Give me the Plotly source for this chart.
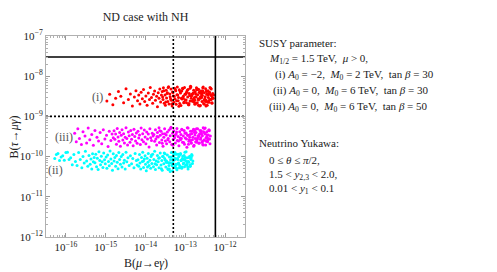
import numpy as np
import plotly.graph_objects as go

# ---------------- data (log10 values) ----------------
# series (i): red
red_log_mueg = [
    -14.97, -14.90, -14.82, -14.75, -14.68, -14.62, -14.55, -14.49, -14.43, -14.38, -14.33, -14.28, -14.24, -14.20,
    -14.17, -14.14, -14.11, -14.08, -14.05, -14.02, -13.99, -13.96, -13.93, -13.90, -13.88, -13.85, -13.82, -13.80,
    -13.77, -13.75, -13.72, -13.70, -13.68, -13.66, -13.64, -13.62, -13.60,
    -13.58, -13.56, -13.55, -13.53, -13.51, -13.50, -13.48, -13.47, -13.45, -13.44,
    -13.42, -13.41, -13.39, -13.38, -13.36, -13.35, -13.33, -13.32, -13.30, -13.29,
    -13.27, -13.26, -13.24, -13.23, -13.21, -13.20, -13.18, -13.17, -13.15, -13.14,
    -13.12, -13.11, -13.09, -13.08, -13.06, -13.05, -13.03, -13.02, -13.00, -12.99,
    -12.97, -12.96, -12.94, -12.93, -12.91, -12.90, -12.88, -12.87, -12.85, -12.84,
    -12.82, -12.81, -12.79, -12.78, -12.76, -12.75, -12.73, -12.72, -12.70, -12.69,
    -12.67, -12.66, -12.64, -12.63, -12.61, -12.60, -12.58, -12.57, -12.55, -12.54,
    -12.52, -12.51, -12.49, -12.48, -12.46, -12.45, -12.43, -12.42, -12.40, -12.39,
    -12.37, -12.36, -12.34, -12.33, -12.31, -12.30,
    -13.57, -13.54, -13.49, -13.46, -13.43, -13.37, -13.34, -13.31, -13.28, -13.25,
    -13.22, -13.19, -13.16, -13.13, -13.10, -13.07, -13.04, -13.01, -12.98, -12.95,
    -12.92, -12.89, -12.86, -12.83, -12.80, -12.77, -12.74, -12.71, -12.68, -12.65,
    -12.62, -12.59, -12.56, -12.53, -12.50, -12.47, -12.44, -12.41, -12.38, -12.35,
    -12.32, -12.29,
    -12.85, -12.78, -12.71, -12.65, -12.58, -12.52, -12.46, -12.41, -12.36, -12.31,
    -12.88, -12.80, -12.74, -12.67, -12.62, -12.56, -12.49, -12.43, -12.38, -12.33,
    -13.05, -12.97, -12.91, -12.83, -12.76, -12.69, -12.59, -12.48, -12.40, -12.35,
]
red_log_taumug = [
    -8.62, -8.45, -8.71, -8.55, -8.38, -8.50, -8.66, -8.31, -8.58, -8.44, -8.74, -8.52, -8.36, -8.61,
    -8.47, -8.69, -8.40, -8.56, -8.33, -8.63, -8.49, -8.72, -8.42, -8.58, -8.28, -8.53, -8.67, -8.45,
    -8.37, -8.60, -8.50, -8.76, -8.41, -8.55, -8.32, -8.64, -8.47,
    -8.38, -8.58, -8.29, -8.67, -8.47, -8.72, -8.35, -8.54, -8.41, -8.63,
    -8.26, -8.69, -8.44, -8.51, -8.32, -8.60, -8.74, -8.39, -8.49, -8.65,
    -8.30, -8.56, -8.36, -8.70, -8.46, -8.27, -8.61, -8.53, -8.34, -8.68,
    -8.42, -8.73, -8.37, -8.57, -8.31, -8.50, -8.64, -8.28, -8.59, -8.45,
    -8.66, -8.40, -8.52, -8.33, -8.71, -8.43, -8.62, -8.25, -8.55, -8.48,
    -8.44, -8.62, -8.35, -8.57, -8.70, -8.39, -8.51, -8.29, -8.66, -8.46,
    -8.59, -8.33, -8.74, -8.42, -8.54, -8.37, -8.63, -8.48, -8.27, -8.68,
    -8.41, -8.56, -8.31, -8.60, -8.45, -8.72, -8.36, -8.53, -8.65, -8.40,
    -8.58, -8.30, -8.49, -8.67, -8.43, -8.55,
    -8.52, -8.36, -8.64, -8.43, -8.28, -8.57, -8.69, -8.41, -8.50, -8.33,
    -8.61, -8.47, -8.75, -8.38, -8.55, -8.30, -8.66, -8.45, -8.59, -8.35,
    -8.71, -8.48, -8.26, -8.62, -8.42, -8.53, -8.68, -8.34, -8.56, -8.40,
    -8.73, -8.46, -8.29, -8.60, -8.51, -8.37, -8.65, -8.44, -8.58, -8.32,
    -8.54, -8.47,
    -8.49, -8.65, -8.33, -8.57, -8.42, -8.70, -8.38, -8.61, -8.46, -8.54,
    -8.30, -8.59, -8.44, -8.72, -8.51, -8.36, -8.63, -8.47, -8.28, -8.66,
    -8.55, -8.40, -8.68, -8.45, -8.60, -8.32, -8.53, -8.74, -8.43, -8.58,
]

# series (iii): magenta
mag_log_mueg = [
    -15.78, -15.74, -15.70, -15.66, -15.61, -15.57, -15.52, -15.48, -15.44, -15.40,
    -15.35, -15.31, -15.27, -15.22, -15.18, -15.14, -15.10, -15.06, -15.02, -14.98,
    -14.94, -14.91, -14.87, -14.84, -14.81,
    -14.79, -14.77, -14.75, -14.73, -14.71, -14.69, -14.67, -14.65, -14.63, -14.61,
    -14.59, -14.57, -14.55, -14.53, -14.51, -14.49, -14.47, -14.45, -14.43, -14.41,
    -14.39, -14.37, -14.35, -14.33, -14.31, -14.29, -14.27, -14.25, -14.23, -14.21,
    -14.19, -14.17, -14.15, -14.13, -14.11, -14.09, -14.07, -14.05, -14.03, -14.01,
    -13.99, -13.97, -13.95, -13.93, -13.91, -13.89, -13.87, -13.85, -13.83, -13.81,
    -13.79, -13.77, -13.75, -13.74, -13.72, -13.70, -13.68, -13.66, -13.65, -13.63,
    -13.61, -13.59, -13.57, -13.56, -13.54, -13.52, -13.50, -13.48, -13.47, -13.45,
    -13.43, -13.41, -13.39, -13.38, -13.36, -13.34, -13.32, -13.30, -13.29, -13.27,
    -13.25, -13.23, -13.21, -13.20, -13.18, -13.16, -13.14, -13.12, -13.11, -13.09,
    -13.07, -13.05, -13.03, -13.02, -13.00, -12.98, -12.96, -12.94, -12.93, -12.91,
    -12.89, -12.87, -12.85, -12.84, -12.82, -12.80, -12.78, -12.76, -12.75, -12.73,
    -12.71, -12.69, -12.67, -12.66, -12.64, -12.62, -12.60, -12.58, -12.57, -12.55,
    -12.53, -12.51, -12.49, -12.48, -12.46, -12.44, -12.42, -12.41, -12.39, -12.37,
    -13.71, -13.64, -13.58, -13.51, -13.44, -13.37, -13.31, -13.26, -13.22, -13.17,
    -13.13, -13.08, -13.04, -13.01, -12.97, -12.95, -12.92, -12.88, -12.86, -12.83,
    -12.81, -12.79, -12.77, -12.74, -12.72, -12.70, -12.68, -12.65, -12.63, -12.61,
    -12.59, -12.56, -12.54, -12.52, -12.50, -12.47, -12.45, -12.43, -12.40, -12.38,
    -12.99, -12.90, -12.79, -12.72, -12.66, -12.60, -12.55, -12.50, -12.45, -12.40,
    -13.10, -12.94, -12.85, -12.76, -12.69, -12.63, -12.57, -12.52, -12.46, -12.42,
]
mag_log_taumug = [
    -9.42, -9.63, -9.31, -9.55, -9.70, -9.38, -9.49, -9.66, -9.29, -9.58,
    -9.45, -9.72, -9.35, -9.52, -9.61, -9.40, -9.68, -9.33, -9.56, -9.47,
    -9.75, -9.37, -9.60, -9.44, -9.53,
    -9.36, -9.57, -9.44, -9.69, -9.30, -9.51, -9.62, -9.40, -9.74, -9.47,
    -9.33, -9.59, -9.43, -9.66, -9.52, -9.28, -9.55, -9.71, -9.39, -9.48,
    -9.64, -9.35, -9.57, -9.45, -9.73, -9.32, -9.50, -9.61, -9.41, -9.67,
    -9.37, -9.54, -9.46, -9.70, -9.29, -9.58, -9.43, -9.63, -9.34, -9.51,
    -9.68, -9.39, -9.56, -9.44, -9.76, -9.31, -9.53, -9.60, -9.42, -9.49,
    -9.45, -9.62, -9.33, -9.56, -9.71, -9.40, -9.51, -9.28, -9.65, -9.47,
    -9.37, -9.59, -9.43, -9.74, -9.52, -9.31, -9.61, -9.46, -9.68, -9.39,
    -9.55, -9.34, -9.63, -9.48, -9.27, -9.70, -9.42, -9.57, -9.36, -9.53,
    -9.66, -9.44, -9.30, -9.60, -9.50, -9.73, -9.38, -9.58, -9.45, -9.32,
    -9.64, -9.49, -9.35, -9.69, -9.54, -9.41, -9.77, -9.47, -9.29, -9.62,
    -9.52, -9.37, -9.66, -9.43, -9.58, -9.33, -9.72, -9.46, -9.55, -9.40,
    -9.61, -9.31, -9.50, -9.67, -9.44, -9.57, -9.36, -9.64, -9.48, -9.28,
    -9.59, -9.42, -9.71, -9.53, -9.38, -9.63, -9.46, -9.34, -9.56, -9.49,
    -9.50, -9.36, -9.67, -9.43, -9.58, -9.30, -9.72, -9.47, -9.39, -9.61,
    -9.54, -9.33, -9.65, -9.41, -9.56, -9.28, -9.69, -9.45, -9.60, -9.37,
    -9.52, -9.74, -9.40, -9.63, -9.31, -9.57, -9.48, -9.66, -9.35, -9.53,
    -9.44, -9.70, -9.38, -9.59, -9.29, -9.62, -9.46, -9.55, -9.34, -9.68,
    -9.42, -9.58, -9.32, -9.64, -9.49, -9.39, -9.71, -9.44, -9.60, -9.36,
    -9.55, -9.47, -9.66, -9.35, -9.53, -9.43, -9.62, -9.30, -9.51, -9.57,
]

# series (ii): cyan
cyan_log_mueg = [
    -16.28, -16.24, -16.20, -16.16, -16.12, -16.08, -16.04, -16.00, -15.96, -15.92,
    -15.88, -15.84, -15.80, -15.76, -15.72, -15.68, -15.64, -15.60, -15.57, -15.54,
    -15.51, -15.48, -15.45, -15.42, -15.39, -15.37, -15.35, -15.33, -15.31, -15.29,
    -15.27, -15.25, -15.23, -15.21, -15.19, -15.17, -15.15, -15.13, -15.11, -15.09,
    -15.07, -15.05, -15.03, -15.01, -14.99, -14.97, -14.95, -14.93, -14.91, -14.89,
    -14.87, -14.85, -14.83, -14.81, -14.79, -14.77, -14.75, -14.73, -14.71, -14.69,
    -14.67, -14.65, -14.63, -14.61, -14.59, -14.57, -14.55, -14.53, -14.51, -14.49,
    -14.47, -14.44, -14.41, -14.38, -14.35, -14.32, -14.29, -14.26, -14.23, -14.21,
    -14.19, -14.17, -14.15, -14.14, -14.12, -14.10, -14.08, -14.07, -14.05, -14.03,
    -14.01, -14.00, -13.98, -13.96, -13.94, -13.93, -13.91, -13.89, -13.87, -13.86,
    -13.84, -13.82, -13.80, -13.79, -13.77, -13.75, -13.73, -13.72, -13.70, -13.68,
    -13.66, -13.65, -13.63, -13.61, -13.59, -13.58, -13.56, -13.54, -13.52, -13.51,
    -13.49, -13.47, -13.45, -13.44, -13.42, -13.40, -13.38, -13.37, -13.35, -13.33,
    -13.31, -13.30, -13.28, -13.26, -13.24, -13.23, -13.21, -13.19, -13.17, -13.16,
    -13.14, -13.12, -13.10, -13.09, -13.07, -13.05, -13.03, -13.02, -13.00, -12.98,
    -12.96, -12.95, -12.93, -12.91, -12.89, -12.88, -12.86, -12.84, -12.82, -12.81,
    -14.05, -13.95, -13.85, -13.76, -13.67, -13.60, -13.53, -13.46, -13.41, -13.36,
    -13.32, -13.27, -13.22, -13.18, -13.13, -13.08, -13.04, -13.01, -12.97, -12.94,
    -12.90, -12.87, -12.83, -13.50, -13.43, -13.39, -13.29, -13.25, -13.20, -13.15,
    -13.11, -13.06, -12.99, -12.92, -12.85, -13.34, -13.22, -13.12, -13.03, -12.96,
    -12.88, -13.57, -13.48, -13.40, -13.31, -13.26, -13.17, -13.08, -13.00, -12.93,
]
cyan_log_taumug = [
    -10.05, -9.95, -9.92, -10.10, -10.01, -9.98, -10.09, -9.90, -9.89, -10.07,
    -10.03, -10.20, -9.95, -10.12, -10.22, -9.90, -10.07, -10.28, -10.00, -10.16,
    -9.87, -10.11, -10.24, -9.97, -10.19, -10.06, -10.31, -9.93, -10.13, -10.02,
    -10.15, -9.94, -10.25, -10.04, -10.32, -9.88, -10.10, -10.20, -9.99, -10.13,
    -10.27, -9.91, -10.08, -10.18, -10.01, -10.29, -9.96, -10.12, -10.23, -9.86,
    -10.06, -10.17, -10.34, -9.93, -10.11, -10.02, -10.24, -9.97, -10.14, -10.30,
    -9.90, -10.07, -10.19, -10.00, -10.26, -9.95, -10.16, -10.09, -10.31, -9.89,
    -10.13, -10.03, -10.22, -9.98, -10.18, -10.05, -10.28, -9.92, -10.10, -10.21,
    -10.08, -10.24, -9.95, -10.16, -10.31, -10.02, -10.12, -9.89, -10.27, -10.06,
    -9.98, -10.19, -10.35, -10.04, -10.14, -9.92, -10.22, -10.09, -10.29, -10.00,
    -10.17, -9.94, -10.25, -10.07, -9.87, -10.32, -10.11, -10.20, -9.97, -10.13,
    -10.28, -10.03, -9.91, -10.21, -10.10, -10.34, -9.99, -10.18, -10.05, -9.93,
    -10.26, -10.11, -9.96, -10.30, -10.15, -10.01, -10.37, -10.08, -9.90, -10.23,
    -10.13, -9.98, -10.27, -10.04, -10.19, -9.94, -10.33, -10.07, -10.16, -10.00,
    -10.22, -9.92, -10.10, -10.29, -10.05, -10.18, -9.97, -10.25, -10.09, -9.88,
    -10.20, -10.03, -10.31, -10.14, -9.99, -10.24, -10.07, -9.95, -10.17, -10.11,
    -10.11, -10.26, -9.96, -10.18, -10.04, -10.30, -9.91, -10.14, -10.22, -10.01,
    -10.35, -10.08, -10.19, -9.94, -10.27, -10.06, -10.16, -9.89, -10.12, -10.25,
    -10.02, -10.20, -9.97, -10.09, -10.32, -10.15, -9.93, -10.23, -10.05, -10.28,
    -10.10, -9.99, -10.21, -10.13, -10.03, -10.17, -10.29, -9.95, -10.07, -10.19,
    -10.24, -10.00, -10.14, -10.31, -10.06, -9.90, -10.18, -10.26, -10.02, -10.12,
]

# experimental bounds
meg_bound = 5.7e-13        # solid vertical
meg_future = 5.0e-14       # dotted vertical
tau_bound = 3.0e-8         # solid horizontal
tau_future = 1.0e-9        # dotted horizontal

x_log_range = [-16.5, -11.5]
y_log_range = [-12, -7]
x_tick_exps = [-16, -15, -14, -13, -12]
y_tick_exps = [-12, -11, -10, -9, -8, -7]

SERIF = "Liberation Serif, Times New Roman, serif"


def pts(lx, ly):
    n = min(len(lx), len(ly))
    return np.power(10.0, np.array(lx[:n])), np.power(10.0, np.array(ly[:n]))


fig = go.Figure()
for lx, ly, col in [(cyan_log_mueg, cyan_log_taumug, "#00FFFF"),
                    (mag_log_mueg, mag_log_taumug, "#FF00FF"),
                    (red_log_mueg, red_log_taumug, "#FF0000")]:
    x, y = pts(lx, ly)
    fig.add_trace(go.Scatter(x=x, y=y, mode="markers",
                             marker=dict(color=col, size=3, line=dict(width=0)),
                             showlegend=False, hoverinfo="skip"))

xlo, xhi = 10 ** x_log_range[0], 10 ** x_log_range[1]
ylo, yhi = 10 ** y_log_range[0], 10 ** y_log_range[1]
line_specs = [
    ([xlo, xhi], [tau_bound, tau_bound], "solid"),
    ([xlo, xhi], [tau_future, tau_future], "2px,2px"),
    ([meg_bound, meg_bound], [ylo, yhi], "solid"),
    ([meg_future, meg_future], [ylo, yhi], "2px,2px"),
]
for lx, ly, dash in line_specs:
    fig.add_trace(go.Scatter(x=lx, y=ly, mode="lines",
                             line=dict(color="black", width=1.6, dash=dash),
                             showlegend=False, hoverinfo="skip", cliponaxis=True))

axis_common = dict(type="log", showgrid=False, zeroline=False, showline=True,
                   linecolor="#b0b0b0", linewidth=1, mirror="allticks",
                   ticks="inside", ticklen=4, tickcolor="#999999", tickwidth=1,
                   tickfont=dict(family=SERIF, size=11, color="#222222"),
                   minor=dict(ticks="inside", ticklen=2, tickcolor="#b0b0b0", dtick="D1",
                              showgrid=False))

fig.update_xaxes(range=x_log_range, tickmode="array",
                 tickvals=[10.0 ** e for e in x_tick_exps],
                 ticktext=["10<sup>\u2212%d</sup>" % (-e) for e in x_tick_exps],
                 **axis_common)
fig.update_yaxes(range=y_log_range, tickmode="array",
                 tickvals=[10.0 ** e for e in y_tick_exps],
                 ticktext=["10<sup>\u2212%d</sup>" % (-e) for e in y_tick_exps],
                 **axis_common)

# the page body adds an 8px margin; lay the figure out in reference pixel coords minus that
OFF = 8
W, H = 497 - OFF, 272 - OFF
L, R, T, B = 43 - OFF, 245 - OFF, 36 - OFF, 237 - OFF
pw, ph = R - L, B - T


def px(xp):
    return (xp - OFF - L) / pw


def py(yp):
    return (B - (yp - OFF)) / ph


annots = []
# axis titles
annots.append(dict(text="B(<i>\u03bc</i>\u2192e<i>\u03b3</i>)", x=px(144), y=py(263),
                   xanchor="center", yanchor="middle", font=dict(size=12)))
annots.append(dict(text="B(<i>\u03c4</i>\u2192<i>\u03bc\u03b3</i>)", x=px(11), y=py(137),
                   textangle=-90, xanchor="center", yanchor="middle", font=dict(size=12)))
# series labels
for t, xx, yy in [("(i)", 95, 97), ("(iii)", 61, 137), ("(ii)", 53, 170)]:
    annots.append(dict(text=t, x=px(xx), y=py(yy), xanchor="center", yanchor="middle",
                       font=dict(size=12, color="#555555")))

right_lines = [
    ("SUSY parameter:", 257, 43),
    ("<i>M</i><sub>1/2</sub> = 1.5 TeV,  <i>\u03bc</i> > 0,", 267, 59),
    ("(i) <i>A</i><sub>0</sub> = \u22122,  <i>M</i><sub>0</sub> = 2 TeV,  tan <i>\u03b2</i> = 30", 273, 75),
    ("(ii) <i>A</i><sub>0</sub> = 0,  <i>M</i><sub>0</sub> = 6 TeV,  tan <i>\u03b2</i> = 30", 271, 91),
    ("(iii) <i>A</i><sub>0</sub> = 0,  <i>M</i><sub>0</sub> = 6 TeV,  tan <i>\u03b2</i> = 50", 267, 107),
    ("Neutrino Yukawa:", 257, 143),
    ("0 \u2264 <i>\u03b8</i> \u2264 <i>\u03c0</i>/2,", 267, 160),
    ("1.5 < <i>y</i><sub>2,3</sub> < 2.0,", 267, 175),
    ("0.01 < <i>y</i><sub>1</sub> < 0.1", 267, 189),
]
for t, xx, yy in right_lines:
    annots.append(dict(text=t, x=px(xx), y=py(yy), xanchor="left", yanchor="middle",
                       font=dict(size=11, color="#222222")))

for a in annots:
    a.update(xref="paper", yref="paper", showarrow=False)
    a.setdefault("font", {})
    a["font"].setdefault("family", SERIF)
    a["font"].setdefault("color", "#222222")

fig.update_layout(
    width=W, height=H,
    margin=dict(l=L, r=W - R, t=T, b=H - B, pad=0),
    paper_bgcolor="white", plot_bgcolor="white",
    font=dict(family=SERIF, color="#222222"),
    title=dict(text="ND case with NH", x=px(144), xref="paper", xanchor="center",
               y=1 - (17 - OFF) / H, yanchor="middle",
               font=dict(family=SERIF, size=12, color="#222222")),
    annotations=annots,
    showlegend=False,
)

fig.write_html("out.html")
